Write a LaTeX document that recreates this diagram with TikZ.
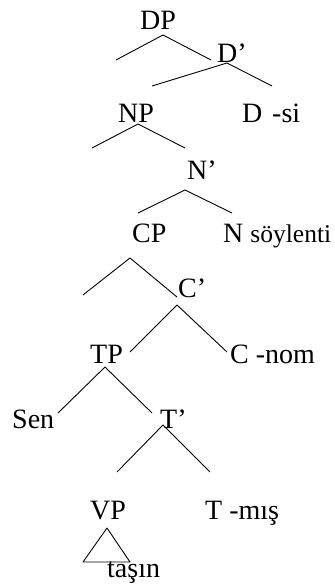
\documentclass[tikz,border=0pt]{standalone}
\usepackage{fontspec}
\setmainfont{Liberation Serif}
\tikzset{
  lbl/.style={anchor=base west, inner sep=0pt, font=\fontsize{28}{31}\selectfont},
  branch/.style={line width=0.9pt}
}
\begin{document}
\begin{tikzpicture}[x=1pt, y=-1pt, line join=round]
    \useasboundingbox (0,0) rectangle (334,585);

    % Branch points (apex of each fork)
    \coordinate (DPa) at (163,35);
    \coordinate (DBa) at (227,63);
    \coordinate (NPa) at (138,124);
    \coordinate (NBa) at (185,190);
    \coordinate (CPa) at (130,258);
    \coordinate (CBa) at (177,305);
    \coordinate (TPa) at (105,367);
    \coordinate (TBa) at (163,425);

    % Branch ends
    \coordinate (DPl) at (116,60);
    \coordinate (DPr) at (211,60);
    \coordinate (DBl) at (152,86);
    \coordinate (DBr) at (272,86);
    \coordinate (NPl) at (92,148);
    \coordinate (NPr) at (185,148);
    \coordinate (NBl) at (138,213);
    \coordinate (NBr) at (232,213);
    \coordinate (CPl) at (83,295);
    \coordinate (CPr) at (177,297);
    \coordinate (CBl) at (130,352);
    \coordinate (CBr) at (227,352);
    \coordinate (TPl) at (58,413);
    \coordinate (TPr) at (152,413);
    \coordinate (TBl) at (117,472);
    \coordinate (TBr) at (210,472);

    % Triangle under VP
    \coordinate (Va) at (107,528);
    \coordinate (Vl) at (83,562);
    \coordinate (Vr) at (130,562);

    % Draw the forks
    \draw[branch] (DPl) -- (DPa) -- (DPr);
    \draw[branch] (DBl) -- (DBa) -- (DBr);
    \draw[branch] (NPl) -- (NPa) -- (NPr);
    \draw[branch] (NBl) -- (NBa) -- (NBr);
    \draw[branch] (CPl) -- (CPa) -- (CPr);
    \draw[branch] (CBl) -- (CBa) -- (CBr);
    \draw[branch] (TPl) -- (TPa) -- (TPr);
    \draw[branch] (TBl) -- (TBa) -- (TBr);
    \draw[branch] (Va) -- (Vl) -- (Vr) -- cycle;

    % Labels
    \node[lbl] (dp) at (140,30) {DP};
    \node[lbl] (dbar) at (217,63) {D'};
    \node[lbl] (np) at (118,123) {NP};
    \node[lbl] (dhead) at (242,123) {D\hspace{0.35em}-si};
    \node[lbl] (nbar) at (187,180) {N'};
    \node[lbl] (cp) at (132,242) {CP};
    \node[lbl] (nhead) at (223,242) {N {\fontsize{25.5}{28}\selectfont söylenti}};
    \node[lbl] (cbar) at (178,297) {C'};
    \node[lbl] (tp) at (90,363) {TP};
    \node[lbl] (chead) at (230,363) {C -nom};
    \node[lbl] (sen) at (12,428) {Sen};
    \node[lbl] (tbar) at (160,428) {T'};
    \node[lbl] (vp) at (90,519) {VP};
    \node[lbl] (thead) at (205,519) {T -mış};
    \node[lbl] (tasin) at (107,577) {taşın};
\end{tikzpicture}
\end{document}
